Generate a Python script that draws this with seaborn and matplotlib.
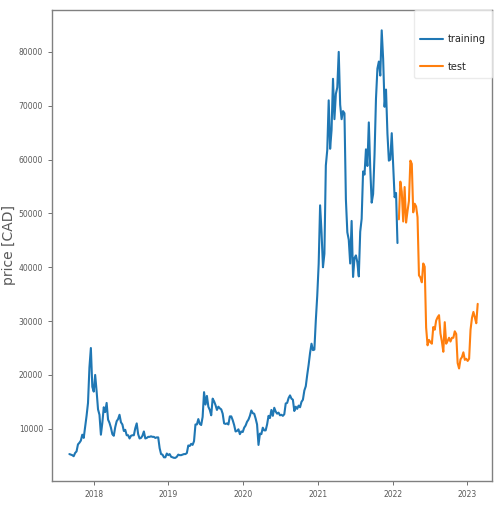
import pandas as pd
import matplotlib
matplotlib.use("Agg")
import matplotlib.pyplot as plt
import seaborn as sns

# weekly closing price in CAD, one value per Monday
train_2017 = [5300, 5200, 5100, 4900, 5500, 5800, 7100, 7400, 7800, 8900, 8300, 10400,
              12400, 14800, 21400, 25000, 17800]
train_2018 = [16900, 20000, 17000, 13600, 12600, 8900, 11100, 14000, 13100, 14800, 11700, 11100,
              10200, 9000, 8700, 10300, 11400, 11800, 12600, 11200, 10800, 9600, 9800, 8800,
              8800, 8200, 8700, 8800, 8800, 10100, 11000, 9000, 8200, 8300, 8700, 9500,
              8200, 8300, 8500, 8500, 8600, 8500, 8500, 8300, 8400, 8400, 6400, 5300,
              5200, 4700, 4700, 5400, 5100]
train_2019 = [5300, 4800, 4700, 4600, 4600, 4800, 5200, 5100, 5100, 5200, 5300, 5300,
              5500, 6900, 6800, 7200, 7000, 7700, 10800, 10800, 11800, 10900, 10700, 12200,
              16800, 14500, 16100, 14100, 13500, 12500, 15600, 15100, 14400, 13500, 14100, 13800,
              13600, 12800, 11000, 10900, 11000, 10800, 12300, 12300, 11600, 10700, 9500, 9600,
              9900, 9000, 9500, 9400]
train_2020 = [10200, 10600, 11300, 11700, 12400, 13400, 12900, 12800, 11900, 10800, 7000, 9100,
              9000, 10200, 9700, 9700, 10800, 12400, 12000, 13500, 12400, 13900, 13200, 12800,
              13000, 12500, 12600, 12400, 12700, 14700, 14800, 15700, 16200, 15600, 15400, 13300,
              14100, 13700, 14300, 14000, 15000, 15400, 17100, 17900, 20000, 21900, 24100, 25800,
              24600, 24700, 30100, 34700]
train_2021 = [40600, 51500, 46500, 40000, 42500, 58900, 61800, 71000, 62000, 65500, 75000, 67500,
              72200, 73400, 80000, 70200, 67500, 69000, 68600, 52600, 46500, 45100, 40700, 48600,
              38200, 41700, 42200, 40900, 38300, 46600, 49000, 57800, 57200, 61900, 58800, 66900,
              58400, 52000, 53600, 61000, 71300, 76900, 78200, 75600, 84000, 78700, 69800, 73000,
              64800, 59800, 60000, 64900]
train_2022 = [59000, 53000, 53800, 44500]

test_2022 = [48900, 55900, 54000, 48500, 54900, 48300, 50400, 52300, 59800, 59200, 50200, 51800,
             51300, 49300, 38500, 38100, 37200, 40700, 40100, 28800, 25500, 26500, 26100, 25800,
             28900, 28400, 30100, 30700, 31100, 27700, 26200, 24300, 29800, 25800, 26300, 26900,
             26200, 26900, 26900, 28100, 27600, 22200, 21200, 22900, 23300, 24200, 22800, 23000]
test_2023 = [22600, 23000, 28400, 30600, 31700, 30700, 29600, 33200]

segments = [
    ("training", "2017-09-04", train_2017),
    ("training", "2018-01-01", train_2018),
    ("training", "2019-01-07", train_2019),
    ("training", "2020-01-06", train_2020),
    ("training", "2021-01-04", train_2021),
    ("training", "2022-01-03", train_2022),
    ("test", "2022-01-31", test_2022),
    ("test", "2023-01-02", test_2023),
]

frames = []
for name, start, values in segments:
    frames.append(pd.DataFrame({
        "date": pd.date_range(start, periods=len(values), freq="7D"),
        "price": values,
        "set": name,
    }))
df = pd.concat(frames, ignore_index=True)

sns.set_style("ticks")
plt.rcParams["font.family"] = ["DejaVu Sans"]

fig = plt.figure(figsize=(4.97, 5.2), dpi=100)
ax = fig.add_axes([0.105, 0.075, 0.885, 0.906])

sns.lineplot(data=df, x="date", y="price", hue="set",
             palette={"training": "#1f77b4", "test": "#ff7f0e"},
             linewidth=1.5, ax=ax)

ax.set_xlim(pd.Timestamp("2017-06-12"), pd.Timestamp("2023-05-01"))
ax.set_ylim(300, 87800)
ax.set_yticks([10000, 20000, 30000, 40000, 50000, 60000, 70000, 80000])
ax.xaxis.set_major_locator(matplotlib.dates.YearLocator())
ax.xaxis.set_major_formatter(matplotlib.dates.DateFormatter("%Y"))

ax.set_xlabel("")
ax.set_ylabel("price [CAD]", fontsize=10, color="0.35", labelpad=2)
ax.tick_params(labelsize=5.5, colors="0.35", length=3, width=0.6)
for side in ax.spines.values():
    side.set_color("0.5")
    side.set_linewidth(1.0)

# blank title only adds head-room above the entries, as in the original box
leg = ax.legend(loc="upper right", fontsize=7, title=" ", title_fontsize=1.5,
                frameon=True, handlelength=2.4, labelspacing=1.8, borderpad=0.6,
                handletextpad=0.5, borderaxespad=0.0, framealpha=0.8)
leg.get_frame().set_edgecolor("0.9")

fig.savefig("out.png", dpi=100)
